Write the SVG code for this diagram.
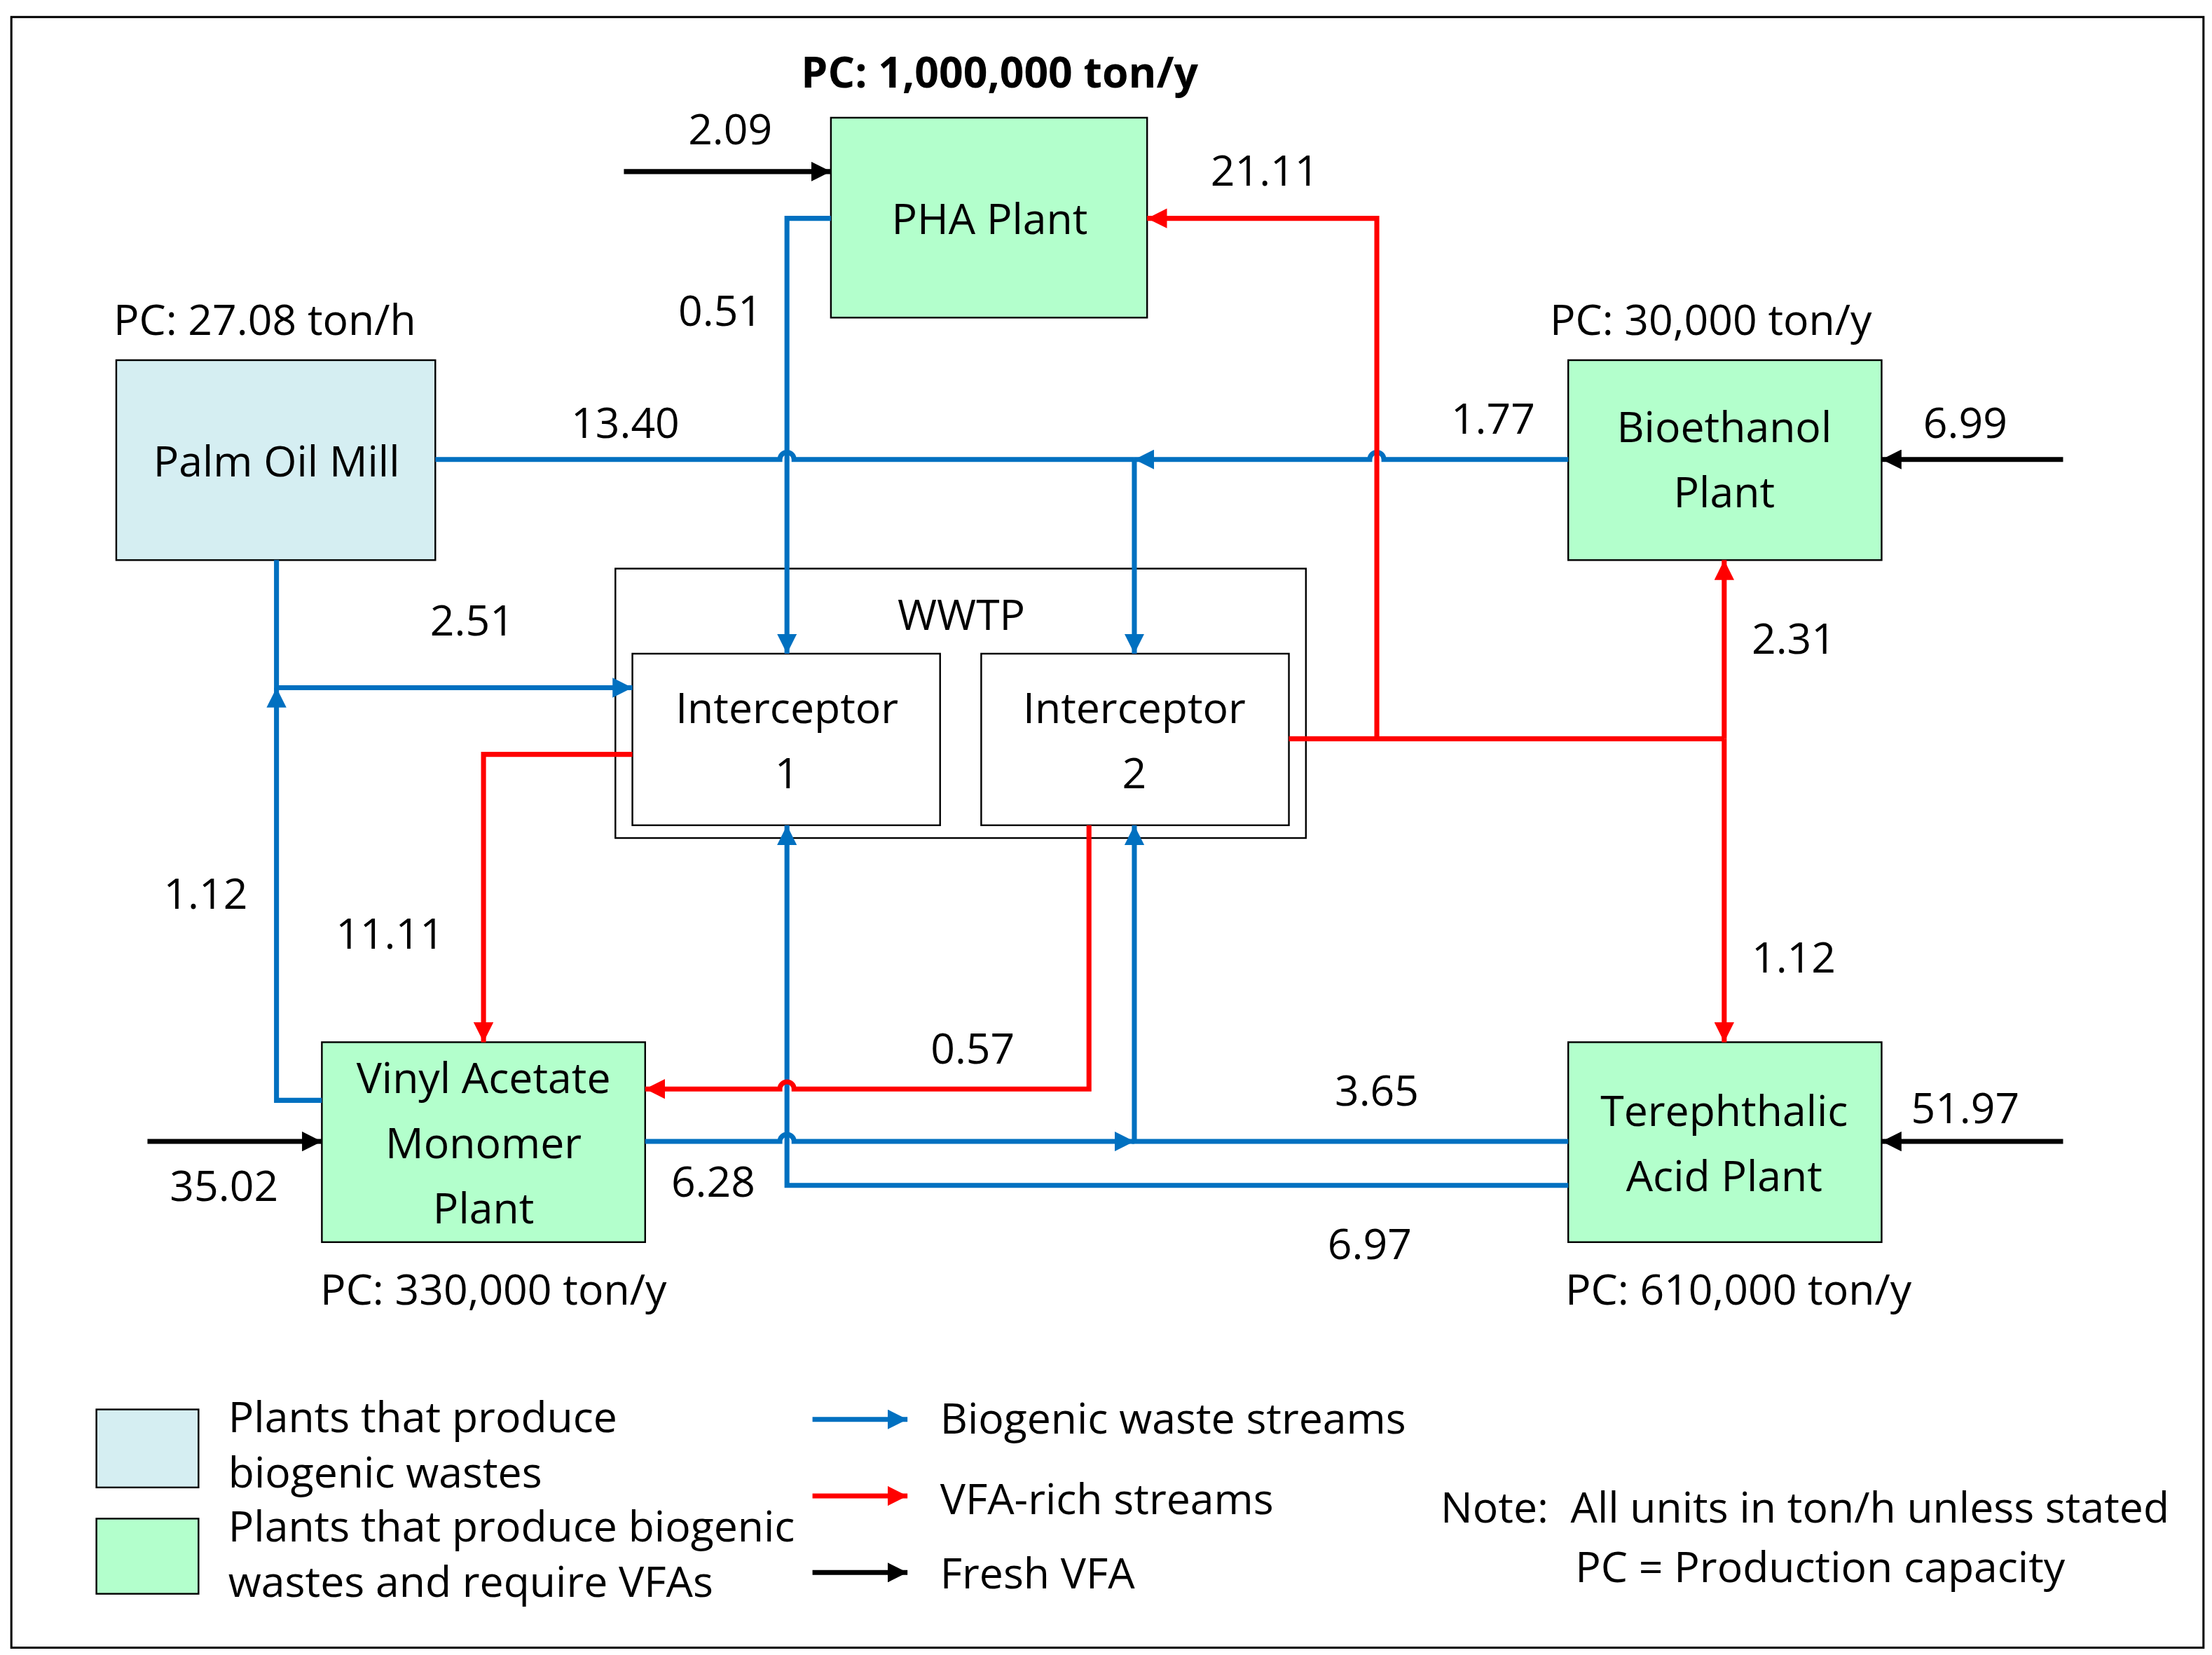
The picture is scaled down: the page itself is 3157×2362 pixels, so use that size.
<svg xmlns="http://www.w3.org/2000/svg" width="3157" height="2362" viewBox="0 0 3157 2362">
<defs>
<marker id="ab" viewBox="0 0 10 10" refX="10" refY="5" markerWidth="14" markerHeight="14" markerUnits="userSpaceOnUse" orient="auto"><path d="M0,0 L10,5 L0,10 z" fill="#0070c0"/></marker>
<marker id="ar" viewBox="0 0 10 10" refX="10" refY="5" markerWidth="14" markerHeight="14" markerUnits="userSpaceOnUse" orient="auto"><path d="M0,0 L10,5 L0,10 z" fill="#ff0000"/></marker>
<marker id="ak" viewBox="0 0 10 10" refX="10" refY="5" markerWidth="14" markerHeight="14" markerUnits="userSpaceOnUse" orient="auto"><path d="M0,0 L10,5 L0,10 z" fill="#000"/></marker>
</defs>
<style>
text{font-family:"Open Sans","Liberation Sans",sans-serif;font-size:30px;fill:#000}
.c{text-anchor:middle}
.box{stroke:#000;stroke-width:1.2}
.g{fill:#b3ffcc}
.b{fill:#d5eef2}
.w{fill:#fff}
.bl{fill:none;stroke:#0070c0;stroke-width:3.5}
.rd{fill:none;stroke:#ff0000;stroke-width:3.5}
.bk{fill:none;stroke:#000;stroke-width:3.5}
</style>
<rect width="3157" height="2362" fill="#fff"/>
<g transform="scale(2.0237)">
<rect x="8" y="12" width="1546" height="1150" fill="none" stroke="#000" stroke-width="1.5"/>
<g id="pha"><rect class="box g" x="586" y="83" width="223" height="141"/><text class="c" x="698" y="165">PHA Plant</text><text class="c" x="705" y="62" font-weight="bold">PC: 1,000,000 ton/y</text></g>
<g id="pom"><rect class="box b" x="82" y="254" width="225" height="141"/><text class="c" x="195" y="336">Palm Oil Mill</text><text x="80" y="236">PC: 27.08 ton/h</text></g>
<g id="bio"><rect class="box g" x="1106" y="254" width="221" height="141"/><text class="c" x="1216" y="312">Bioethanol</text><text class="c" x="1216" y="358">Plant</text><text x="1093" y="236">PC: 30,000 ton/y</text></g>
<g id="wwtp"><rect class="box w" x="434" y="401" width="487" height="190"/><text class="c" x="678" y="444">WWTP</text></g>
<g id="int1"><rect class="box w" x="446" y="461" width="217" height="121"/><text class="c" x="555" y="510">Interceptor</text><text class="c" x="555" y="556">1</text></g>
<g id="int2"><rect class="box w" x="692" y="461" width="217" height="121"/><text class="c" x="800" y="510">Interceptor</text><text class="c" x="800" y="556">2</text></g>
<g id="vam"><rect class="box g" x="227" y="735" width="228" height="141"/><text class="c" x="341" y="771">Vinyl Acetate</text><text class="c" x="341" y="817">Monomer</text><text class="c" x="341" y="863">Plant</text><text class="c" x="348" y="920">PC: 330,000 ton/y</text></g>
<g id="tpa"><rect class="box g" x="1106" y="735" width="221" height="141"/><text class="c" x="1216" y="794">Terephthalic</text><text class="c" x="1216" y="840">Acid Plant</text><text class="c" x="1226" y="920">PC: 610,000 ton/y</text></g>
<g id="connectors">
<path class="bk" d="M440,121 H586" marker-end="url(#ak)"/>
<path class="bk" d="M1455,324 H1327" marker-end="url(#ak)"/>
<path class="bk" d="M1455,805 H1327" marker-end="url(#ak)"/>
<path class="bk" d="M104,805 H227" marker-end="url(#ak)"/>
<path class="bl" d="M586,154 H555 V461" marker-end="url(#ab)"/>
<path class="bl" d="M307,324 H550 a5,5 0 0 1 10,0 H800"/>
<path class="bl" d="M1106,324 H976 a5,5 0 0 0 -10,0 H800" marker-end="url(#ab)"/>
<path class="bl" d="M800,324 V461" marker-end="url(#ab)"/>
<path class="bl" d="M195,395 V485 H446" marker-end="url(#ab)"/>
<path class="bl" d="M227,776 H195 V485" marker-end="url(#ab)"/>
<path class="bl" d="M455,805 H550 a5,5 0 0 1 10,0 H800" marker-end="url(#ab)"/>
<path class="bl" d="M1106,805 H800 V582" marker-end="url(#ab)"/>
<path class="bl" d="M1106,836 H555 V582" marker-end="url(#ab)"/>
<path class="rd" d="M446,532 H341 V735" marker-end="url(#ar)"/>
<path class="rd" d="M909,521 H1216"/>
<path class="rd" d="M1216,521 V395" marker-end="url(#ar)"/>
<path class="rd" d="M1216,521 V735" marker-end="url(#ar)"/>
<path class="rd" d="M971,521 V154 H809" marker-end="url(#ar)"/>
<path class="rd" d="M768,582 V768 H560 a5,5 0 0 0 -10,0 H455" marker-end="url(#ar)"/>
</g>
<g id="labels">
<text class="c" x="515" y="102">2.09</text>
<text class="c" x="892" y="131">21.11</text>
<text class="c" x="508" y="230">0.51</text>
<text class="c" x="441" y="309">13.40</text>
<text class="c" x="1053" y="306">1.77</text>
<text class="c" x="1386" y="309">6.99</text>
<text class="c" x="333" y="448">2.51</text>
<text class="c" x="1265" y="461">2.31</text>
<text class="c" x="145" y="641">1.12</text>
<text class="c" x="275" y="669">11.11</text>
<text class="c" x="1265" y="686">1.12</text>
<text class="c" x="686" y="750">0.57</text>
<text class="c" x="971" y="780">3.65</text>
<text class="c" x="1386" y="792">51.97</text>
<text class="c" x="503" y="844">6.28</text>
<text class="c" x="158" y="847">35.02</text>
<text class="c" x="966" y="888">6.97</text>
</g>
<g id="legend">
<rect class="box b" x="68" y="994" width="72" height="55"/>
<rect class="box g" x="68" y="1071" width="72" height="53"/>
<text x="161" y="1010">Plants that produce</text>
<text x="161" y="1049">biogenic wastes</text>
<text x="161" y="1087">Plants that produce biogenic</text>
<text x="161" y="1126">wastes and require VFAs</text>
<path class="bl" d="M573,1001 H640" marker-end="url(#ab)"/>
<path class="rd" d="M573,1055 H640" marker-end="url(#ar)"/>
<path class="bk" d="M573,1109 H640" marker-end="url(#ak)"/>
<text x="663" y="1011">Biogenic waste streams</text>
<text x="663" y="1068">VFA-rich streams</text>
<text x="663" y="1120">Fresh VFA</text>
<text x="1016" y="1074" xml:space="preserve">Note:  All units in ton/h unless stated</text>
<text x="1111" y="1116">PC = Production capacity</text>
</g>
</g>
</svg>
